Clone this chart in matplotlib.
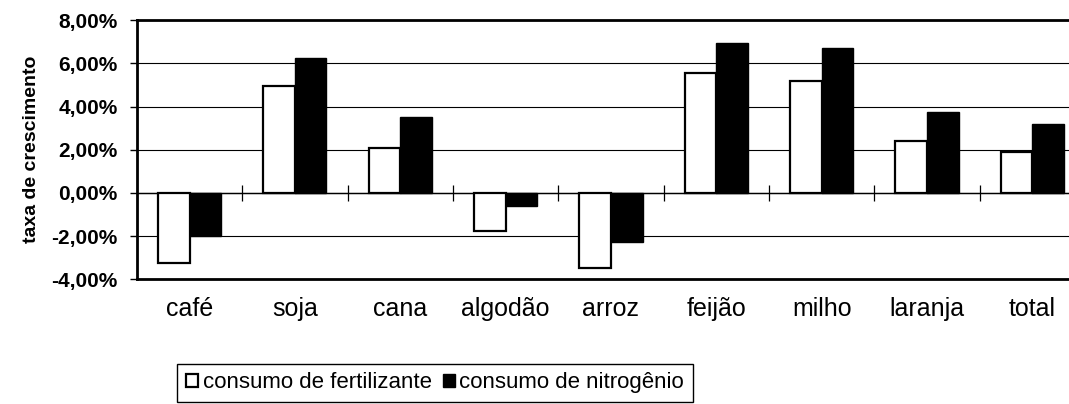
import matplotlib.pyplot as plt
import numpy as np
from matplotlib.ticker import FuncFormatter

plt.rcParams['font.family'] = ['Liberation Sans', 'DejaVu Sans']

# Dados
culturas = ["café", "soja", "cana", "algodão", "arroz", "feijão", "milho", "laranja", "total"]
fertilizante = [-3.25, 4.95, 2.1, -1.75, -3.5, 5.55, 5.2, 2.4, 1.9]
nitrogenio = [-2.0, 6.25, 3.5, -0.6, -2.3, 6.95, 6.7, 3.75, 3.2]
ticksY = [-4, -2, 0, 2, 4, 6, 8]

def formatoPorcento(v, pos):
    return "{:.2f}%".format(v).replace(".", ",")

fig = plt.figure(figsize=(10.69, 4.04), dpi=100)
ax = fig.add_axes([0.128, 0.309, 0.887, 0.641])

x = np.arange(len(culturas))
larg = 0.3
b1 = ax.bar(x - larg/2, fertilizante, larg, color="white", edgecolor="black", linewidth=1.6, zorder=3)
b2 = ax.bar(x + larg/2, nitrogenio, larg, color="black", edgecolor="black", linewidth=1.0, zorder=3)

ax.set_xlim(-0.5, len(culturas) - 0.5)
ax.set_ylim(ticksY[0], ticksY[-1])
ax.set_yticks(ticksY)
ax.yaxis.set_major_formatter(FuncFormatter(formatoPorcento))
ax.yaxis.grid(True, color="black", linewidth=0.8)
ax.set_axisbelow(True)
ax.tick_params(axis="y", direction="out", length=5, width=1, pad=9, labelsize=15)
for t in ax.get_yticklabels():
    t.set_fontweight("bold")

# rotulos das culturas embaixo do grafico
ax.set_xticks(x)
ax.set_xticklabels(culturas, fontsize=18)
ax.tick_params(axis="x", length=0, pad=13)

# linha do zero com os tracinhos entre os grupos
zero = (0 - ticksY[0]) / (ticksY[-1] - ticksY[0])
sec = ax.secondary_xaxis(zero)
sec.set_xticks(x[:-1] + 0.5)
sec.set_xticklabels([])
sec.tick_params(direction="inout", length=12, width=0.9)
sec.spines["bottom"].set_linewidth(1.0)

ax.spines["right"].set_visible(False)
ax.spines["left"].set_linewidth(2)
ax.spines["top"].set_linewidth(2)
ax.spines["bottom"].set_linewidth(2)

ax.set_ylabel("taxa de crescimento", fontsize=14, fontweight="bold", labelpad=8)

fig.legend([b1, b2], ["consumo de fertilizante", "consumo de nitrogênio"],
           loc="lower left", bbox_to_anchor=(0.1656, 0.004), ncol=2, fontsize=16,
           frameon=True, fancybox=False, edgecolor="black", framealpha=1,
           handlelength=0.55, handleheight=0.55, handletextpad=0.2, columnspacing=0.5,
           borderpad=0.4, borderaxespad=0)

plt.savefig("out.png", dpi=100)
